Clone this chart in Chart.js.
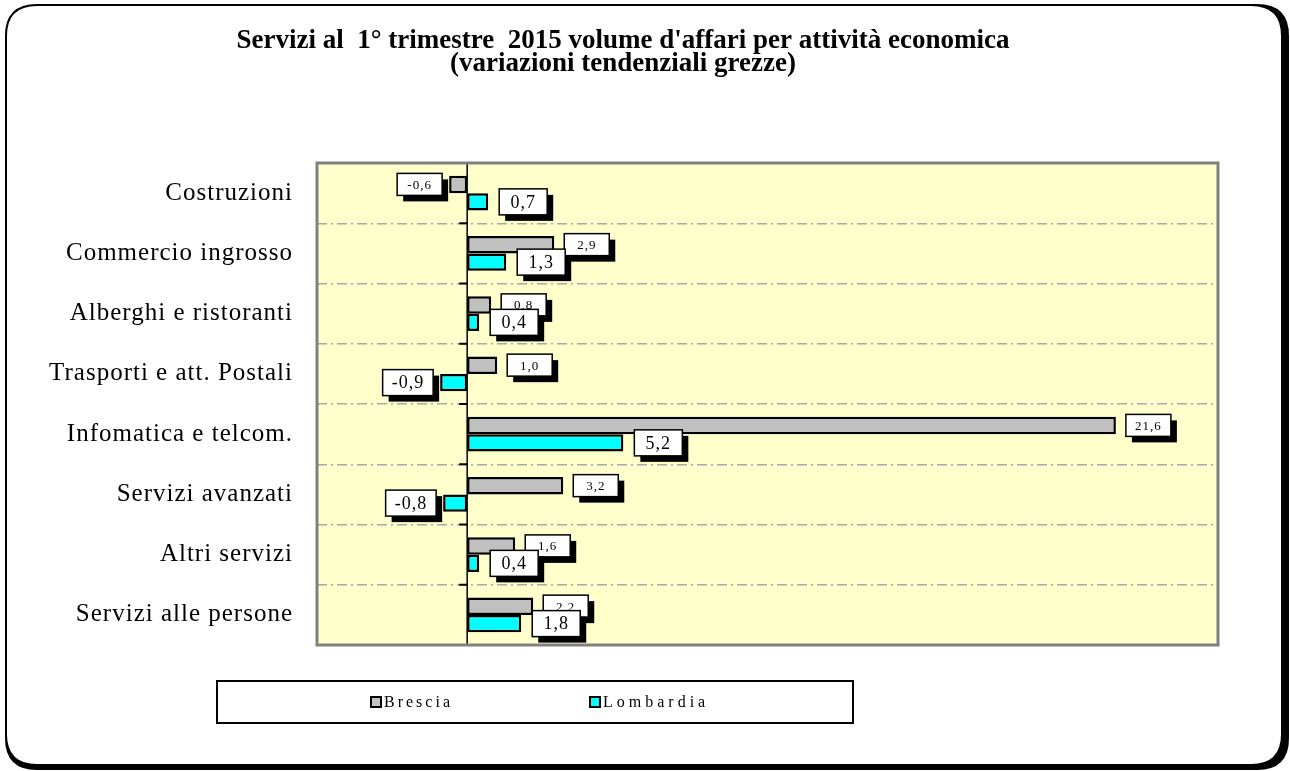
<!DOCTYPE html>
<html>
<head>
<meta charset="utf-8">
<script src="https://cdn.jsdelivr.net/npm/chart.js@4.4.1/dist/chart.umd.min.js"></script>
<style>
  html, body { margin: 0; padding: 0; background: #ffffff; }
  #wrap { width: 1290px; height: 771px; position: relative; }
</style>
</head>
<body>
<div id="wrap"><canvas id="c" width="1290" height="771"></canvas></div>
<script>
// ---- DATA ----
const categories = [
  'Costruzioni',
  'Commercio ingrosso',
  'Alberghi e ristoranti',
  'Trasporti e att. Postali',
  'Infomatica e telcom.',
  'Servizi avanzati',
  'Altri servizi',
  'Servizi alle persone'
];
const brescia   = [-0.6, 2.9, 0.8, 1.0, 21.6, 3.2, 1.6, 2.2];
const lombardia = [ 0.7, 1.3, 0.4, -0.9, 5.2, -0.8, 0.4, 1.8];
const seriesNames = ['Brescia', 'Lombardia'];
const titleLines = [
  "Servizi al  1\u00b0 trimestre  2015 volume d'affari per attivit\u00e0 economica",
  "(variazioni tendenziali grezze)"
];

// ---- STYLE ----
const SERIF = '"Liberation Serif", "Times New Roman", serif';
const colors = ['#C0C0C0', '#00FFFF'];

function setLS(ctx, v) { if ('letterSpacing' in ctx) ctx.letterSpacing = v; }
function fmt(v) { return v.toFixed(1).replace('.', ','); }
function roundRect(ctx, x, y, w, h, r) {
  ctx.beginPath();
  ctx.moveTo(x + r, y);
  ctx.lineTo(x + w - r, y);
  ctx.quadraticCurveTo(x + w, y, x + w, y + r);
  ctx.lineTo(x + w, y + h - r);
  ctx.quadraticCurveTo(x + w, y + h, x + w - r, y + h);
  ctx.lineTo(x + r, y + h);
  ctx.quadraticCurveTo(x, y + h, x, y + h - r);
  ctx.lineTo(x, y + r);
  ctx.quadraticCurveTo(x, y, x + r, y);
  ctx.closePath();
}

const framePlugin = {
  id: 'frame',
  beforeLayout(chart) { setLS(chart.ctx, '1px'); },
  beforeDraw(chart) {
    const ctx = chart.ctx;
    setLS(ctx, '1px');
    ctx.save();
    ctx.fillStyle = '#ffffff';
    ctx.fillRect(0, 0, chart.width, chart.height);
    // outer frame with shadow
    ctx.fillStyle = '#000000';
    roundRect(ctx, 5, 4, 1284, 766, 32);
    ctx.fill();
    ctx.fillStyle = '#ffffff';
    roundRect(ctx, 7, 6, 1274, 758, 30);
    ctx.fill();
    // plot background
    const a = chart.chartArea;
    ctx.fillStyle = '#FFFFCC';
    ctx.fillRect(a.left, a.top, a.right - a.left, a.bottom - a.top);
    // title
    ctx.fillStyle = '#000000';
    ctx.font = 'bold 27px ' + SERIF;
    setLS(ctx, '0px');
    ctx.textAlign = 'center';
    ctx.textBaseline = 'middle';
    ctx.fillText(titleLines[0], 623, 41);
    ctx.fillText(titleLines[1], 623, 64);
    ctx.restore();
  },
  beforeDatasetsDraw(chart) {
    const ctx = chart.ctx;
    const a = chart.chartArea;
    const x0 = chart.scales.x.getPixelForValue(0);
    ctx.save();
    ctx.strokeStyle = '#000000';
    ctx.lineWidth = 1.5;
    ctx.beginPath();
    ctx.moveTo(x0, a.top);
    ctx.lineTo(x0, a.bottom);
    ctx.stroke();
    ctx.lineWidth = 2;
    const n = categories.length;
    for (let i = 0; i <= n; i++) {
      const yy = a.top + (a.bottom - a.top) * i / n;
      ctx.beginPath();
      ctx.moveTo(x0 - 8, yy);
      ctx.lineTo(x0, yy);
      ctx.stroke();
    }
    ctx.restore();
  },
  afterDatasetsDraw(chart) {
    const ctx = chart.ctx;
    const a = chart.chartArea;
    ctx.save();
    ctx.strokeStyle = '#808080';
    ctx.lineWidth = 3;
    ctx.strokeRect(a.left, a.top, a.right - a.left, a.bottom - a.top);
    ctx.restore();
  },
  afterDraw(chart) {
    const ctx = chart.ctx;
    ctx.save();
    // data labels
    const styles = [
      { font: '13px ' + SERIF, ls: '1px', h: 22, minW: 45, gapPos: 10, gapNeg: 7 },
      { font: '18px ' + SERIF, ls: '1px', h: 26, minW: 48, gapPos: 11, gapNeg: 7 }
    ];
    chart.data.datasets.forEach((ds, di) => {
      const meta = chart.getDatasetMeta(di);
      const st = styles[di];
      meta.data.forEach((bar, i) => {
        const v = ds.data[i];
        const txt = fmt(v);
        ctx.font = st.font;
        setLS(ctx, st.ls);
        const tw = ctx.measureText(txt).width;
        const w = Math.max(st.minW, tw + 18);
        const h = st.h;
        let bx;
        if (v >= 0) bx = bar.x + st.gapPos;
        else bx = bar.x - st.gapNeg - w;
        const by = bar.y - h / 2;
        ctx.fillStyle = '#000000';
        ctx.fillRect(bx + 6, by + 6, w, h);
        ctx.fillStyle = '#ffffff';
        ctx.fillRect(bx, by, w, h);
        ctx.strokeStyle = '#000000';
        ctx.lineWidth = 1.5;
        ctx.strokeRect(bx, by, w, h);
        ctx.fillStyle = '#000000';
        ctx.textAlign = 'center';
        ctx.textBaseline = 'middle';
        ctx.fillText(txt, bx + w / 2, by + h / 2 + 1);
      });
    });
    // legend
    ctx.strokeStyle = '#000000';
    ctx.lineWidth = 2;
    ctx.strokeRect(217, 681, 636, 42);
    const legX = [371, 590];
    const legLS = ['3px', '4px'];
    chart.data.datasets.forEach((ds, di) => {
      const x = legX[di];
      ctx.fillStyle = ds.backgroundColor;
      ctx.fillRect(x, 697, 10, 10);
      ctx.strokeStyle = '#000000';
      ctx.lineWidth = 2;
      ctx.strokeRect(x, 697, 10, 10);
      ctx.fillStyle = '#000000';
      ctx.font = '16px ' + SERIF;
      setLS(ctx, legLS[di]);
      ctx.textAlign = 'left';
      ctx.textBaseline = 'middle';
      ctx.fillText(ds.label, x + 13, 703);
    });
    ctx.restore();
    setLS(ctx, '1px');
  }
};

new Chart(document.getElementById('c'), {
  type: 'bar',
  data: {
    labels: categories,
    datasets: [
      { label: seriesNames[0], data: brescia, backgroundColor: colors[0], borderColor: '#000000', borderWidth: 2.5, borderSkipped: false },
      { label: seriesNames[1], data: lombardia, backgroundColor: colors[1], borderColor: '#000000', borderWidth: 2.5, borderSkipped: false }
    ]
  },
  options: {
    indexAxis: 'y',
    responsive: false,
    animation: false,
    devicePixelRatio: 1,
    layout: { padding: { left: 20, right: 72, top: 163, bottom: 126 } },
    datasets: { bar: { categoryPercentage: 0.58, barPercentage: 1.0 } },
    plugins: {
      legend: { display: false },
      title: { display: false },
      tooltip: { enabled: false }
    },
    scales: {
      x: { display: false, min: -5, max: 25 },
      y: {
        afterFit: (s) => { s.width = 297; },
        grid: { color: '#A8A8A8', lineWidth: 1.5, drawTicks: false, offset: true },
        border: { display: false, dash: [10, 4, 2, 4] },
        ticks: { color: '#000000', padding: 24, font: { family: SERIF, size: 25 } }
      }
    }
  },
  plugins: [framePlugin]
});
</script>
</body>
</html>
